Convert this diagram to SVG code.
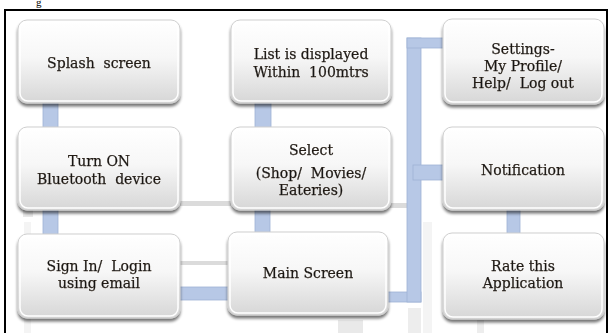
<svg xmlns="http://www.w3.org/2000/svg" width="611" height="333" viewBox="0 0 611 333">
  <defs>
    <linearGradient id="boxFill" x1="0" y1="0" x2="0" y2="1">
      <stop offset="0" stop-color="#ffffff"/>
      <stop offset="0.45" stop-color="#f7f7f7"/>
      <stop offset="1" stop-color="#d6d6d6"/>
    </linearGradient>
    <filter id="shadow" x="-10%" y="-10%" width="120%" height="130%">
      <feGaussianBlur in="SourceAlpha" stdDeviation="1.6"/>
      <feOffset dx="0" dy="2.5" result="off"/>
      <feComponentTransfer><feFuncA type="linear" slope="0.55"/></feComponentTransfer>
      <feMerge><feMergeNode/><feMergeNode in="SourceGraphic"/></feMerge>
    </filter>
    <style>
      .box { fill: url(#boxFill); stroke: #cfcfcf; stroke-width: 1; filter: url(#shadow); }
      .hl { fill: none; stroke: #ffffff; stroke-width: 1.5; }
      .lbl { font-family: "DejaVu Serif", "Liberation Serif", serif; font-size: 14px; fill: #151515; stroke: #3a2a1a; stroke-width: 0.25; text-anchor: middle; white-space: pre; }
      .conn { fill: #b7c8e6; stroke: #9fb2d4; stroke-width: 0.8; }
      .scan { fill: #d2d2d2; }
      .frame { fill: none; stroke: #000000; stroke-width: 2; }
    </style>
  </defs>

  <rect width="611" height="333" fill="#ffffff"/>

  <!-- caption remnant above the frame -->
  <text x="36" y="6" font-family="Liberation Serif, serif" font-size="11" fill="#000">g</text>

  <!-- outer frame -->
  <rect class="frame" x="5" y="10" width="602" height="340"/>

  <!-- faint scanner streaks -->
  <g id="scan-marks" opacity="0.8">
    <rect class="scan" x="180" y="201" width="51" height="5"/>
    <rect class="scan" x="390" y="203" width="17" height="5"/>
    <rect class="scan" x="178" y="261" width="60" height="4"/>
    <rect class="scan" x="23" y="207" width="10" height="10" opacity="0.6"/>
    <rect class="scan" x="24" y="222" width="7" height="111" opacity="0.3"/>
    <rect class="scan" x="338" y="320" width="25" height="13" opacity="0.6"/>
    <rect class="scan" x="408" y="308" width="13" height="25" opacity="0.5"/>
    <rect class="scan" x="423" y="222" width="9" height="111" opacity="0.3"/>
    <rect class="scan" x="477" y="320" width="7" height="13" opacity="0.5"/>
  </g>

  <!-- connectors -->
  <g id="connectors">
    <rect class="conn" x="43" y="100" width="15" height="30"/>
    <rect class="conn" x="43" y="207" width="15" height="30"/>
    <rect class="conn" x="255" y="100" width="16" height="30"/>
    <rect class="conn" x="255" y="207" width="15" height="28"/>
    <rect class="conn" x="176" y="287" width="56" height="13"/>
    <rect class="conn" x="384" y="292" width="37" height="10"/>
    <rect class="conn" x="407" y="38" width="14" height="264"/>
    <rect class="conn" x="407" y="38" width="38" height="10"/>
    <rect class="conn" x="413" y="165" width="32" height="15"/>
    <rect class="conn" x="507" y="208" width="13" height="28"/>
  </g>

  <!-- column 1 -->
  <g id="splash">
    <rect class="box" x="18" y="20" width="162" height="83" rx="9"/>
    <rect class="hl" x="20" y="22" width="158" height="79" rx="8"/>
    <text class="lbl" x="99" y="68" xml:space="preserve">Splash  screen</text>
  </g>
  <g id="bluetooth">
    <rect class="box" x="18" y="127" width="162" height="83" rx="9"/>
    <rect class="hl" x="20" y="129" width="158" height="79" rx="8"/>
    <text class="lbl" x="99" y="166">Turn ON</text>
    <text class="lbl" x="99" y="184" xml:space="preserve">Bluetooth  device</text>
  </g>
  <g id="signin">
    <rect class="box" x="18" y="234" width="162" height="84" rx="9"/>
    <rect class="hl" x="20" y="236" width="158" height="80" rx="8"/>
    <text class="lbl" x="99" y="271" xml:space="preserve">Sign In/  Login</text>
    <text class="lbl" x="99" y="288">using email</text>
  </g>

  <!-- column 2 -->
  <g id="list">
    <rect class="box" x="231" y="20" width="160" height="83" rx="9"/>
    <rect class="hl" x="233" y="22" width="156" height="79" rx="8"/>
    <text class="lbl" x="311" y="59">List is displayed</text>
    <text class="lbl" x="311" y="77" xml:space="preserve">Within  100mtrs</text>
  </g>
  <g id="select">
    <rect class="box" x="231" y="127" width="160" height="83" rx="9"/>
    <rect class="hl" x="233" y="129" width="156" height="79" rx="8"/>
    <text class="lbl" x="311" y="155">Select</text>
    <text class="lbl" x="311" y="178" xml:space="preserve">(Shop/  Movies/</text>
    <text class="lbl" x="311" y="195">Eateries)</text>
  </g>
  <g id="main">
    <rect class="box" x="228" y="232" width="160" height="83" rx="9"/>
    <rect class="hl" x="230" y="234" width="156" height="79" rx="8"/>
    <text class="lbl" x="308" y="278">Main Screen</text>
  </g>

  <!-- column 3 -->
  <g id="settings">
    <rect class="box" x="443" y="19" width="161" height="85" rx="9"/>
    <rect class="hl" x="445" y="21" width="157" height="81" rx="8"/>
    <text class="lbl" x="523" y="54">Settings-</text>
    <text class="lbl" x="523" y="71">My Profile/</text>
    <text class="lbl" x="523" y="88" xml:space="preserve">Help/  Log out</text>
  </g>
  <g id="notification">
    <rect class="box" x="443" y="127" width="161" height="83" rx="9"/>
    <rect class="hl" x="445" y="129" width="157" height="79" rx="8"/>
    <text class="lbl" x="523" y="175">Notification</text>
  </g>
  <g id="rate">
    <rect class="box" x="443" y="233" width="161" height="86" rx="9"/>
    <rect class="hl" x="445" y="235" width="157" height="82" rx="8"/>
    <text class="lbl" x="523" y="271">Rate this</text>
    <text class="lbl" x="523" y="288">Application</text>
  </g>
</svg>
